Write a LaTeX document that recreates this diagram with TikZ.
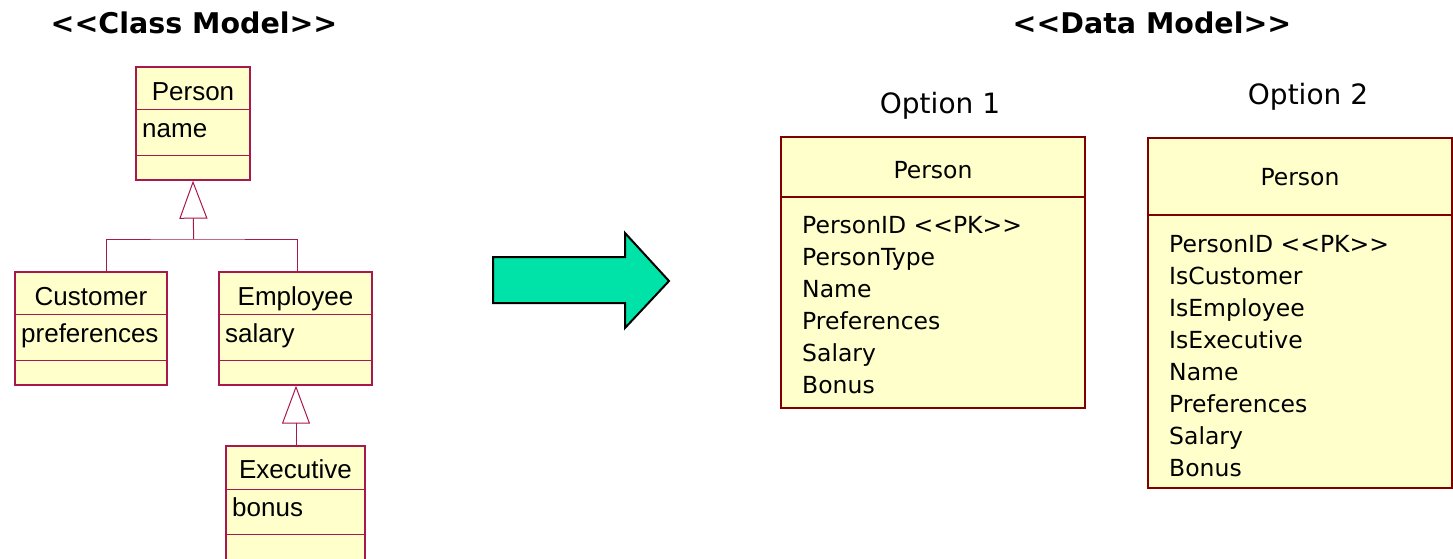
\documentclass[tikz,border=0pt]{standalone}
\usepackage{fontspec}
\usetikzlibrary{arrows.meta}
\setmainfont{Liberation Sans}
\newfontfamily\tah{DejaVu Sans}
\newfontfamily\tahb{DejaVu Sans Bold}
\definecolor{clsfill}{HTML}{FFFFCC}
\definecolor{clsline}{HTML}{A8184C}
\definecolor{tabline}{HTML}{800000}
\definecolor{arrowfill}{HTML}{00E3A8}
\tikzset{
  cls/.style={draw=clsline, line width=1.3pt, fill=clsfill},
  clsdiv/.style={draw=clsline, line width=1pt},
  tab/.style={draw=tabline, line width=2pt, fill=clsfill},
  tabdiv/.style={draw=tabline, line width=2pt},
  ctext/.style={inner sep=0pt, font=\fontsize{26}{30}\selectfont},
  ttext/.style={inner sep=0pt, font=\tah\fontsize{23.5}{32}\selectfont},
  otext/.style={inner sep=0pt, font=\tah\fontsize{28}{32}\selectfont},
  title/.style={inner sep=0pt, font=\tahb\fontsize{28.5}{32}\selectfont},
  gen/.style={draw=clsline, line width=1pt, -{Triangle[open, width=28pt, length=38pt]}},
}
\begin{document}
\begin{tikzpicture}[x=1pt, y=-1pt]
\useasboundingbox (0,0) rectangle (1453,558);
\begin{scope}
\clip (0,0) rectangle (1453,558);
% titles
\node[title, anchor=base] (t1) at (194,33) {<<Class Model>>};
\node[title, anchor=base] (t2) at (1152,33) {<<Data Model>>};

% Person class
\node[cls, minimum width=114pt, minimum height=113pt, inner sep=0pt] (person) at (193,123.5) {};
\draw[clsdiv] (136,109) -- (250,109) (136,155) -- (250,155);
\node[ctext, anchor=base] (personT) at (193,100) {Person};
\node[ctext, anchor=base west] (personA) at (142,137.5) {name};

% Customer class
\node[cls, minimum width=152pt, minimum height=113pt, inner sep=0pt] (cust) at (91,328.5) {};
\draw[clsdiv] (15,314) -- (167,314) (15,360) -- (167,360);
\node[ctext, anchor=base] (custT) at (91,305) {Customer};
\node[ctext, anchor=base west] (custA) at (21,342) {preferences};

% Employee class
\node[cls, minimum width=153pt, minimum height=113pt, inner sep=0pt] (emp) at (295.5,328.5) {};
\draw[clsdiv] (219,314) -- (372,314) (219,360) -- (372,360);
\node[ctext, anchor=base] (empT) at (295.5,305) {Employee};
\node[ctext, anchor=base west] (empA) at (225,342) {salary};

% Executive class
\node[cls, minimum width=139pt, minimum height=132pt, inner sep=0pt] (exec) at (295.5,512) {};
\draw[clsdiv] (226,489) -- (365,489) (226,534) -- (365,534);
\node[ctext, anchor=base] (execT) at (295.5,478) {Executive};
\node[ctext, anchor=base west] (execA) at (232,516) {bonus};
\end{scope}

% generalisations
\coordinate (j1) at (193.6,239);
\draw[clsdiv] (cust.north -| 106,0) |- (j1) -| (emp.north -| 297,0);
\draw[gen] (j1) -- (person.south);
\draw[gen] (exec.north -| 296,0) -- (emp.south -| 296,0);

% big arrow
\draw[line width=2pt, fill=arrowfill, line join=miter]
  (493,257) -- (625,257) -- (625,233) -- (669,281) -- (625,328) -- (625,303) -- (493,303) -- cycle;
\node[inner sep=0pt, minimum size=0pt] (bigarrow) at (581,281) {};

% Option 1
\node[otext, anchor=base] (o1) at (940,113) {Option 1};
\node[tab, minimum width=304pt, minimum height=271pt, inner sep=0pt] (tab1) at (933,272.5) {};
\draw[tabdiv] (tab1.west |- 0,197) -- (tab1.east |- 0,197);
\node[ttext, anchor=base] (tab1T) at (933,178) {Person};
\foreach \t [count=\i from 0] in {PersonID <{}<PK>{}>, PersonType, Name, Preferences, Salary, Bonus}
  \node[ttext, anchor=base west] (o1l\i) at (802,233+32*\i) {\t};

% Option 2
\node[otext, anchor=base] (o2) at (1308,104) {Option 2};
\node[tab, minimum width=304pt, minimum height=350pt, inner sep=0pt] (tab2) at (1300,313) {};
\draw[tabdiv] (tab2.west |- 0,215) -- (tab2.east |- 0,215);
\node[ttext, anchor=base] (tab2T) at (1300,185) {Person};
\foreach \t [count=\i from 0] in {PersonID <{}<PK>{}>, IsCustomer, IsEmployee, IsExecutive, Name, Preferences, Salary, Bonus}
  \node[ttext, anchor=base west] (o2l\i) at (1169,252+32*\i) {\t};
\end{tikzpicture}
\end{document}
